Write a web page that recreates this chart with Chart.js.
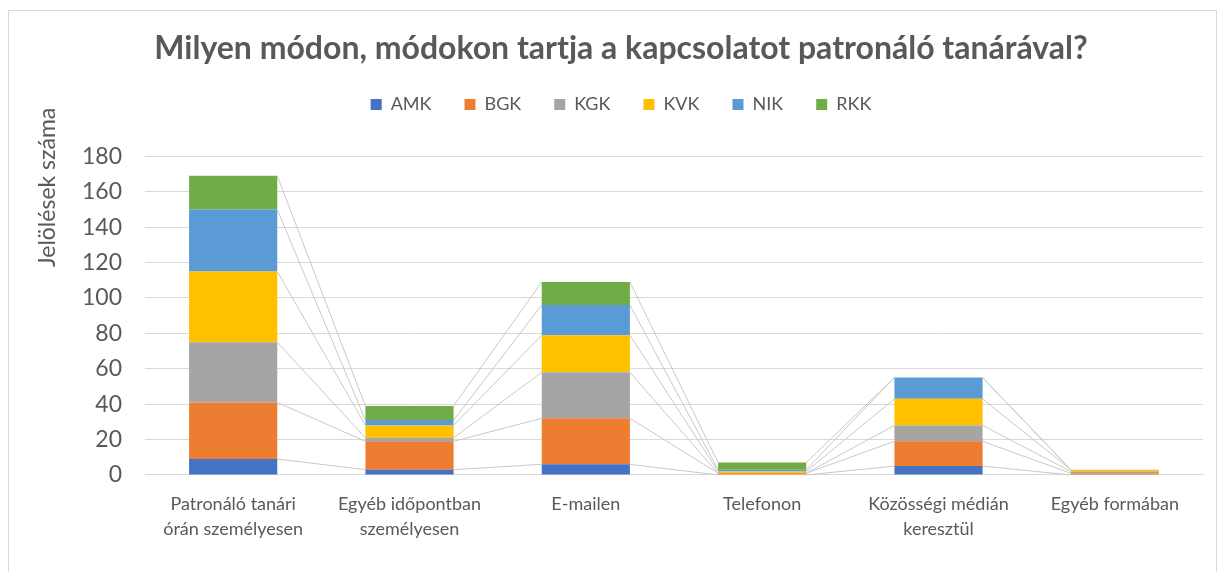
<!DOCTYPE html>
<html>
<head>
<meta charset="utf-8">
<script src="https://cdn.jsdelivr.net/npm/chart.js@4/dist/chart.umd.min.js"></script>
<style>
  html, body { margin: 0; padding: 0; background: #fff; }
  #wrap { position: relative; width: 1222px; height: 572px; }
</style>
</head>
<body>
<div id="wrap"><canvas id="chart" width="1222" height="572"></canvas></div>
<script>
// Categories and series
const categories = [
    ['Patronáló tanári', 'órán személyesen'],
    ['Egyéb időpontban', 'személyesen'],
    'E-mailen',
    'Telefonon',
    ['Közösségi médián', 'keresztül'],
    'Egyéb formában'
];
const amk = [9, 3, 6, 0, 5, 0];
const bgk = [32, 16, 26, 1, 14, 1];
const kgk = [34, 2, 26, 0, 9, 1];
const kvk = [40, 7, 21, 1, 15, 1];
const nik = [35, 3, 17, 1, 12, 0];
const rkk = [19, 8, 13, 4, 0, 0];
const yTicks = [0, 20, 40, 60, 80, 100, 120, 140, 160, 180];

const font = 'Lato, "Open Sans", sans-serif';
const textColor = '#595959';

// Excel-style series lines between stacked bars + frame + axis title
const extras = {
    id: 'extras',
    beforeInit(chart) {
        const fit = chart.legend.fit;
        chart.legend.fit = function () {
            fit.bind(chart.legend)();
            this.height += 33;
        };
    },
    beforeDatasetsDraw(chart) {
        const c = chart.ctx;
        c.save();
        c.strokeStyle = '#c8c8c8';
        c.lineWidth = 1;
        chart.data.datasets.forEach((ds, di) => {
            const bars = chart.getDatasetMeta(di).data;
            for (let i = 0; i < bars.length - 1; i++) {
                const a = bars[i], b = bars[i + 1];
                c.beginPath();
                c.moveTo(a.x + a.width / 2, a.y);
                c.lineTo(b.x - b.width / 2, b.y);
                c.stroke();
            }
        });
        c.restore();
    },
    afterDraw(chart) {
        const c = chart.ctx;
        c.save();
        c.strokeStyle = '#d9d9d9';
        c.lineWidth = 1;
        c.strokeRect(8.5, 10.5, 1208, 570);
        c.translate(48, chart.chartArea.top + 31);
        c.rotate(-Math.PI / 2);
        c.fillStyle = textColor;
        c.font = '23px ' + font;
        c.textAlign = 'center';
        c.textBaseline = 'middle';
        c.fillText('Jelölések száma', 0, 0);
        c.restore();
    }
};

const names = ['AMK', 'BGK', 'KGK', 'KVK', 'NIK', 'RKK'];
const values = [amk, bgk, kgk, kvk, nik, rkk];
const colors = ['#4472C4', '#ED7D31', '#A5A5A5', '#FFC000', '#5B9BD5', '#70AD47'];

new Chart(document.getElementById('chart'), {
    type: 'bar',
    data: {
        labels: categories,
        datasets: names.map((n, i) => ({
            label: n,
            data: values[i],
            backgroundColor: colors[i],
            borderWidth: 0,
            barPercentage: 0.5,
            categoryPercentage: 1
        }))
    },
    options: {
        responsive: false,
        animation: false,
        layout: { padding: { left: 39, right: 19, top: 0, bottom: 21 } },
        plugins: {
            title: {
                display: true,
                text: 'Milyen módon, módokon tartja a kapcsolatot patronáló tanárával?',
                color: textColor,
                font: { family: font, size: 32, weight: 'bold' },
                padding: { top: 29, bottom: -5 }
            },
            legend: {
                labels: {
                    color: textColor,
                    font: { family: font, size: 18 },
                    boxWidth: 11,
                    boxHeight: 11,
                    padding: 33
                }
            },
            tooltip: { enabled: false }
        },
        scales: {
            x: {
                stacked: true,
                grid: { display: false },
                border: { color: '#d9d9d9' },
                ticks: {
                    color: textColor,
                    font: { family: font, size: 18, lineHeight: 1.39 },
                    padding: 9,
                    maxRotation: 0
                }
            },
            y: {
                stacked: true,
                min: 0,
                max: 180,
                afterFit(scale) { scale.width = 106; },
                afterBuildTicks(scale) { scale.ticks = yTicks.map(v => ({ value: v })); },
                grid: { color: '#d9d9d9', drawTicks: false },
                border: { display: false },
                ticks: {
                    color: textColor,
                    font: { family: font, size: 23 },
                    padding: 23
                }
            }
        }
    },
    plugins: [extras]
});
</script>
</body>
</html>
